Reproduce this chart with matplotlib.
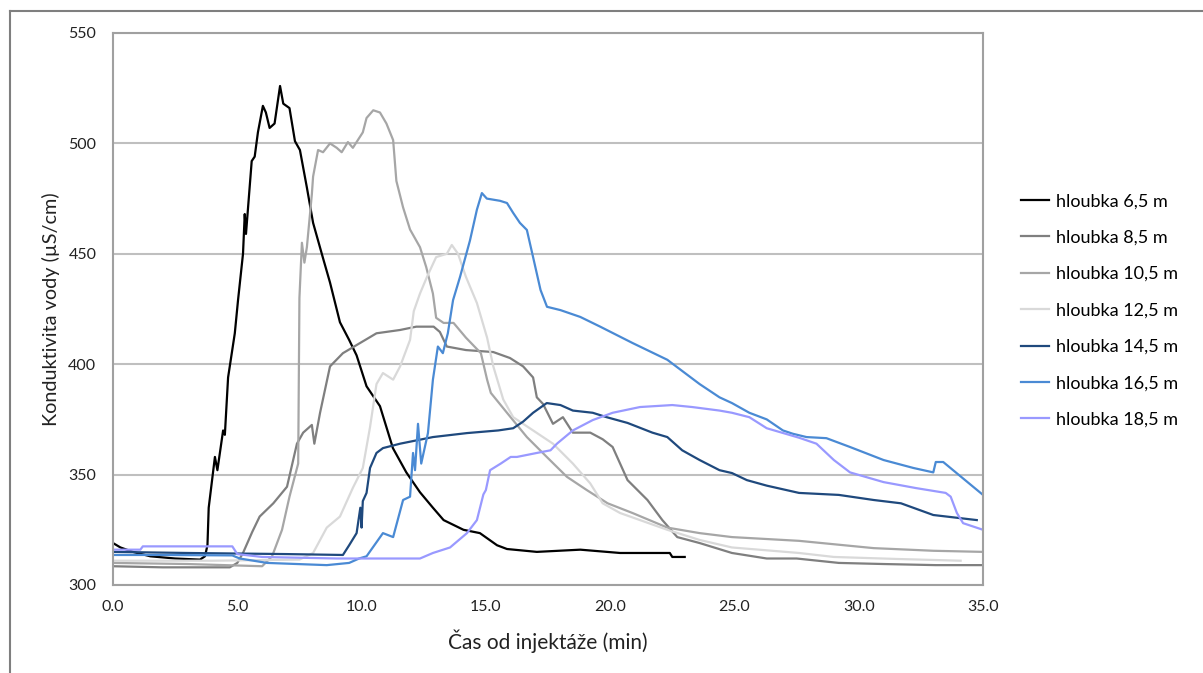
import numpy as np
import matplotlib
matplotlib.use("Agg")
import matplotlib.pyplot as plt
from matplotlib.lines import Line2D

plt.rcParams['font.family'] = ['Lato', 'DejaVu Sans']

# time (min) and conductivity (uS/cm) for each depth
t_65 = [0, 0.3, 0.8, 1.5, 2.5, 3.5, 3.7, 3.8, 3.85, 4.1, 4.2, 4.43, 4.5, 4.63, 4.9, 5.03, 5.23, 5.3, 5.35,
        5.58, 5.7, 5.83, 6.03, 6.15, 6.3, 6.5, 6.72, 6.85, 7.1, 7.32, 7.52, 7.8, 8.05, 8.45, 8.73, 9.13, 9.5,
        9.8, 10.2, 10.74, 11.26, 11.8, 12.35, 12.87, 13.3, 14.1, 14.76, 15.45, 15.85, 17.05, 18.8, 20.4,
        22.4, 22.5, 23.0]
v_65 = [319, 317, 315, 313, 312, 311.5, 313, 318, 335, 358, 352, 370, 368, 394, 414, 429, 450, 468, 459,
        492, 494, 505, 517, 514, 507, 509, 526, 518, 516, 501, 497, 480, 464, 448, 437, 419, 411,
        404, 390, 381, 362, 351, 342, 335, 329.4, 325, 323.5, 318, 316.3, 315, 316, 314.5,
        314.5, 312.7, 312.7]

t_85 = [0, 2, 4.7, 5.0, 5.23, 5.6, 5.9, 6.45, 7.0, 7.4, 7.65, 8.0, 8.1, 8.33, 8.73, 9.25, 9.94, 10.6,
        11.55, 12.2, 12.9, 13.15, 13.43, 14.2, 15.3, 15.97, 16.5, 16.9, 17.05, 17.3, 17.7, 18.1, 18.5,
        19.2, 19.7, 20.1, 20.4, 20.7, 21.1, 21.5, 22.1, 22.7, 23.6, 24.9, 26.3, 27.5, 29.2, 31, 33.1, 35]
v_85 = [308.5, 308, 308, 310, 314.5, 324, 331, 337, 344.5, 364, 369, 372.5, 364, 378, 399, 405, 409.6, 414,
        415.5, 417, 417, 414.6, 408, 406.4, 405.5, 402.8, 399, 394, 385, 382, 373, 376, 369,
        369, 366, 362.5, 355, 347.5, 343, 338.5, 329.4, 321.7, 319, 314.5, 312, 312, 310, 309.5, 309, 309]

t_105 = [0, 3, 6.0, 6.4, 6.8, 7.1, 7.45, 7.5, 7.6, 7.7, 7.8, 8.0, 8.05, 8.25, 8.45, 8.73, 9.0, 9.2, 9.45,
         9.65, 10.05, 10.2, 10.47, 10.74, 11.0, 11.27, 11.4, 11.67, 11.95, 12.35, 12.6, 12.87, 13.0, 13.3,
         13.7, 14.2, 14.8, 15.05, 15.2, 15.85, 16.65, 17.45, 18.26, 19.06, 19.9, 20.9, 22.3, 23.6, 24.9,
         27.6, 30.6, 33, 35]
v_105 = [310, 309.5, 308.5, 313, 325, 340, 355, 430, 455, 446, 453, 477, 485, 497, 496, 500, 498, 496, 500.6,
         498, 505, 511.5, 515, 514, 509, 501.5, 483, 471, 461, 453, 444, 432, 421, 418.7,
         418.7, 412, 405, 393, 387, 378, 367, 358, 349, 343, 337, 332.6, 326, 323.5, 321.7,
         320, 316.7, 315.5, 315]

t_125 = [0, 4, 7.5, 8.05, 8.6, 9.13, 9.65, 10.05, 10.34, 10.6, 10.86, 11.27, 11.55, 11.95, 12.1, 12.35,
         12.63, 13.0, 13.43, 13.63, 13.88, 14.2, 14.64, 15.05, 15.3, 15.7, 16.1, 16.9, 17.7, 18.5, 19.2,
         19.7, 20.4, 21.2, 22.3, 23.6, 24.9, 27.6, 29, 31.5, 34.1]
v_125 = [311, 311, 311.5, 314.5, 326, 331, 344, 353, 371.5, 391, 396, 393, 399, 411, 424, 432,
         439.5, 448.5, 450, 454, 450, 439.5, 427.7, 412, 399, 384, 376, 370, 364, 355, 346,
         337, 332.6, 329.4, 325, 320.4, 317, 314.5, 312.7, 311.8, 311]

t_145 = [0, 3, 7, 9.25, 9.5, 9.8, 9.95, 10.0, 10.05, 10.2, 10.34, 10.6, 10.86, 11.55, 12.87, 14.24, 15.5,
         16.1, 16.5, 16.9, 17.45, 18.0, 18.5, 19.3, 19.86, 20.7, 21.7, 22.3, 22.9, 23.6, 24.4, 24.9, 25.5,
         26.3, 27.6, 29.2, 30.6, 31.7, 33.0, 34.75]
v_145 = [315, 314.5, 314, 313.6, 318, 323.5, 335, 326, 338, 341.7, 353, 359.8, 362, 364, 367, 368.8, 370,
         371, 374, 378, 382.4, 381.5, 379, 378, 376, 373.4, 369, 367, 361, 356.6, 352, 350.7, 347.5,
         345, 341.7, 340.8, 338.5, 337, 331.7, 329.4]

t_165 = [0, 2, 4.8, 5.1, 6.2, 8.6, 9.5, 9.9, 10.2, 10.86, 11.27, 11.67, 11.95, 12.07, 12.15, 12.27, 12.4,
         12.67, 12.87, 13.07, 13.27, 13.47, 13.68, 13.96, 14.36, 14.64, 14.84, 15.04, 15.57, 15.85, 16.1,
         16.37, 16.65, 16.9, 17.2, 17.46, 18.0, 18.8, 19.6, 20.9, 22.3, 23.6, 24.4, 24.9, 25.6, 26.3,
         26.95, 27.35, 27.9, 28.7, 29.65, 31, 32.2, 33.0, 33.1, 33.4, 35]
v_165 = [313.6, 313.6, 313.4, 312, 310, 309, 310, 312, 313, 323.5, 321.7, 338.5, 340, 359.8, 352, 373, 355,
         368.8, 393, 408, 405, 414, 429, 439.5, 456, 470, 477.5, 475, 474, 473, 468.5,
         464, 460.8, 448.5, 433.6, 426, 424.5, 421.4, 417, 409.6, 402, 391, 385, 382.4, 378, 375,
         370, 368.5, 367, 366.5, 362.5, 356.6, 353, 351, 355.7, 355.7, 340.8]

t_185 = [0, 1.1, 1.2, 4.8, 5.0, 6, 9, 12.35, 12.87, 13.56, 14.24, 14.64, 14.9, 15.0, 15.17, 15.37, 15.6,
         16.0, 16.25, 17.05, 17.6, 17.86, 18.5, 19.3, 20.1, 21.2, 22.5, 23.3, 24.4, 24.9, 25.6, 26.3,
         27.6, 28.3, 29.0, 29.65, 31, 32.3, 33.5, 33.7, 33.95, 34.2, 35]
v_185 = [316, 316, 317.5, 317.5, 314, 312.7, 312, 312, 314.5, 317, 323.5, 329.4, 341, 343, 352, 353.4, 355,
         358, 358, 359.8, 361, 364, 370, 374.7, 378, 380.6, 381.5, 380.6, 379, 378, 376, 371,
         366.7, 364, 356.6, 351, 346.6, 343.9, 341.7, 340, 332.6, 328, 325]

labels = ['hloubka 6,5 m', 'hloubka 8,5 m', 'hloubka 10,5 m', 'hloubka 12,5 m',
          'hloubka 14,5 m', 'hloubka 16,5 m', 'hloubka 18,5 m']
colors = ['#000000', '#7f7f7f', '#a6a6a6', '#d9d9d9', '#1f497d', '#4a8ad4', '#9999ff']
series = [(t_65, v_65), (t_85, v_85), (t_105, v_105), (t_125, v_125),
          (t_145, v_145), (t_165, v_165), (t_185, v_185)]

fig = plt.figure(figsize=(12.03, 6.73), dpi=100)
ax = fig.add_axes([113/1203, 1 - 585/673, (983 - 113)/1203, (585 - 33)/673])

for (t, v), c, lab in zip(series, colors, labels):
    ax.plot(t, v, color=c, lw=1.6, label=lab)

ax.set_xlim(0, 35)
ax.set_ylim(300, 550)
ax.set_xticks(np.arange(0, 36, 5))
ax.set_xticklabels(['%.1f' % x for x in np.arange(0, 36, 5)])
ax.set_yticks(np.arange(300, 551, 50))
ax.yaxis.grid(True, color='#bfbfbf', lw=1.5)
ax.set_axisbelow(True)
for s in ax.spines.values():
    s.set_color('#a0a0a0')
    s.set_linewidth(1.5)
ax.tick_params(axis='both', length=0, labelsize=11.5, colors='#222222')
ax.tick_params(axis='y', pad=12)
ax.tick_params(axis='x', pad=11)

ax.set_xlabel('Čas od injektáže (min)', fontsize=15, labelpad=11, color='#222222')
ax.set_ylabel('Konduktivita vody (µS/cm)', fontsize=14.3, labelpad=6, color='#222222')

fig.legend(loc='upper left', bbox_to_anchor=(1005/1203, 1 - 177/673), frameon=False,
           fontsize=13, handlelength=1.55, handletextpad=0.4, labelspacing=1.13)

# outer chart frame
fig.add_artist(Line2D([10/1203, 1], [1 - 11/673, 1 - 11/673], color='#7f7f7f', lw=1.5))
fig.add_artist(Line2D([10/1203, 10/1203], [0, 1 - 11/673], color='#7f7f7f', lw=1.5))

fig.savefig('out.png', dpi=100)
